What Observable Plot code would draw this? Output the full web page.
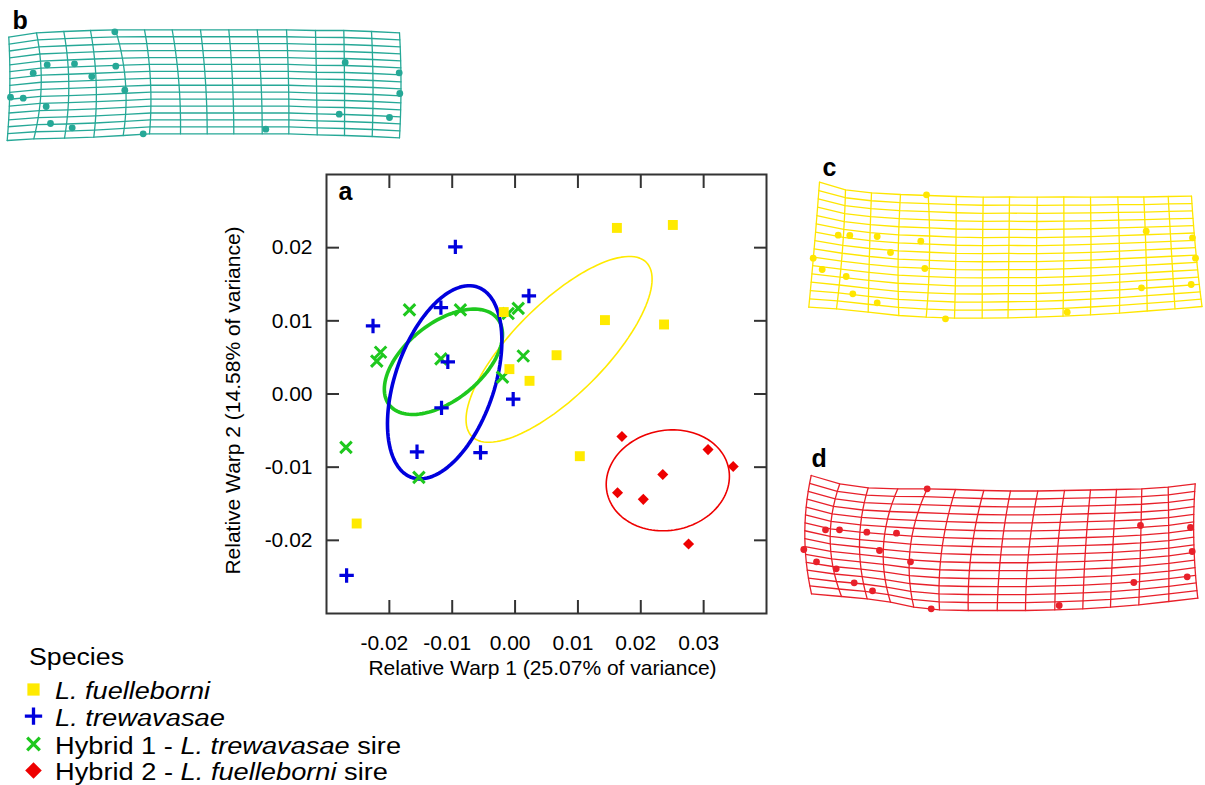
<!DOCTYPE html>
<html><head><meta charset="utf-8">
<script src="https://cdn.jsdelivr.net/npm/d3@7"></script>
<script src="https://cdn.jsdelivr.net/npm/@observablehq/plot@0.6"></script>
<style>
html,body{margin:0;padding:0;background:#fff;}
#page{position:relative;width:1205px;height:785px;overflow:hidden;font-family:"Liberation Sans",Arial,sans-serif;}
#page > svg{position:absolute;}
</style></head>
<body><div id="page"></div>
<script>
// ---------- Panel a: relative warp scores ----------
const xTicks = [-0.02, -0.01, 0.00, 0.01, 0.02, 0.03];
const yTicks = [-0.02, -0.01, 0.00, 0.01, 0.02];
const xLabel = "Relative Warp 1 (25.07% of variance)";
const yLabel = "Relative Warp 2 (14.58% of variance)";

const groups = ["fuelleborni", "trewavasae", "hybrid1", "hybrid2"];
const groupColors = ["#ffea00", "#0000dd", "#1ec81e", "#ee0000"];

const fuelleborniX = [0.0162, 0.0251, -0.0018, 0.0143, 0.0237, 0.0066, -0.0009, 0.0023, 0.0103, -0.0252];
const fuelleborniY = [0.0227, 0.0231, 0.0112, 0.0101, 0.0095, 0.0053, 0.0034, 0.0018, -0.0085, -0.0177];
const trewavasaeX = [-0.0095, 0.0022, -0.0118, -0.0226, -0.0107, -0.0003, -0.0117, -0.0156, -0.0055, -0.0268];
const trewavasaeY = [0.0201, 0.0134, 0.0118, 0.0093, 0.0044, -0.0007, -0.0019, -0.0079, -0.0080, -0.0248];
const hybrid1X = [-0.0168, -0.0087, 0.0005, -0.0011, -0.0214, -0.0220, -0.0118, 0.0013, -0.0020, -0.0269, -0.0153];
const hybrid1Y = [0.0115, 0.0115, 0.0117, 0.0110, 0.0057, 0.0045, 0.0048, 0.0052, 0.0023, -0.0073, -0.0114];
const hybrid2X = [0.0170, 0.0307, 0.0347, 0.0235, 0.0163, 0.0204, 0.0276];
const hybrid2Y = [-0.0058, -0.0076, -0.0099, -0.0110, -0.0135, -0.0144, -0.0205];

// ellipse parameters: centre, spread in x and y, correlation
const ellCx = [0.0070, -0.0112, -0.0114, 0.0243];
const ellCy = [0.0061, 0.0016, 0.0044, -0.0118];
const ellSx = [0.0148, 0.0091, 0.0094, 0.0098];
const ellSy = [0.0127, 0.0132, 0.0072, 0.0069];
const ellR  = [0.756, 0.43, 0.52, 0.08];

// legend
const legendTitle = "Species";
const legendItems = [
  [["L. fuelleborni", true]],
  [["L. trewavasae", true]],
  [["Hybrid 1 - ", false], ["L. trewavasae", true], [" sire", false]],
  [["Hybrid 2 - ", false], ["L. fuelleborni", true], [" sire", false]]
];

// ---------- Deformation grids (panel-local coordinates) ----------
const gridB_topX = [8.3, 36, 63.3, 90, 115, 144, 171.7, 200, 228.3, 256.7, 286, 315, 343.3, 371, 399];
const gridB_topY = [36.7, 32.3, 31, 30, 29.3, 29.3, 29.3, 29.3, 29.3, 29.3, 29.3, 30, 30, 31, 32.3];
const gridB_midX = [9.3, 40.7, 68.3, 95.7, 125, 150, 178.3, 205, 232, 260.5, 288, 316, 344, 372.5, 400.5];
const gridB_midY = [88.4, 85.3, 84.4, 83.4, 82.2, 81.3, 81.3, 81.3, 81.3, 81.3, 81.3, 82.2, 82.5, 83.5, 84.8];
const gridB_botX = [6.7, 33.3, 64, 93.3, 122.7, 149, 180, 206.7, 233.3, 261.7, 288.3, 316.7, 344, 371.7, 399];
const gridB_botY = [140, 138.3, 137.7, 136.7, 135, 133.3, 133.3, 133.3, 133.3, 133.3, 133.3, 134.3, 135, 136, 137.3];
const gridB_dotX = [114.3, 46.7, 74, 32.7, 115.3, 91.3, 124.3, 10, 22.7, 45.7, 50, 71.7, 142.7, 265.3, 344.7, 398.7, 399.3, 338.7, 389];
const gridB_dotY = [31.3, 64.3, 63.3, 72.7, 65.7, 76, 89.7, 96.7, 97.7, 106, 123, 127.3, 133.3, 128.7, 62, 72.3, 93, 113.7, 117];

const gridC_topX = [19, 45, 71, 100, 127.7, 155.7, 182.7, 209, 236.7, 263.3, 290, 317.3, 343.3, 367.7, 391];
const gridC_topY = [31.7, 39.3, 42.3, 44, 45, 46, 46.7, 46.5, 46.7, 46.5, 46.7, 46.5, 46.5, 46, 45.7];
const gridC_midX = [14, 42, 69, 97.7, 129, 155.3, 182, 208.3, 236, 263.3, 290.5, 319, 345.5, 371, 395.3];
const gridC_midY = [94.2, 98.8, 102, 104.5, 105.8, 106.9, 107.2, 107, 107.2, 106.5, 105.7, 104.4, 103.2, 102, 100.9];
const gridC_botX = [8.3, 36, 67.7, 98.3, 125.7, 154, 181.7, 207.5, 235.8, 262.5, 290, 319, 346.7, 374.5, 401.5];
const gridC_botY = [156.7, 158.3, 161.7, 165, 166.7, 167.7, 167.7, 167.3, 166.7, 165.7, 164.3, 162.7, 160.5, 158.3, 156];
const gridC_dotX = [126, 37.7, 49.3, 76.7, 120.3, 90, 12.7, 21.7, 124.3, 45.7, 52.3, 76.7, 145, 266.7, 345.7, 392, 395, 341, 390.7];
const gridC_dotY = [44.3, 84.7, 85, 86, 90.7, 102, 107.7, 119, 118, 126, 143.3, 152.3, 168.3, 161.7, 80.7, 87.3, 107.7, 137.3, 134];

const gridD_topX = [20.7, 49.3, 77.7, 107.3, 136.7, 165, 193.3, 220, 247.3, 274, 300, 326, 351.3, 377.7, 404.7];
const gridD_topY = [35, 43.3, 47.3, 48.3, 48.3, 49, 50, 50.5, 50.5, 50, 49.5, 49, 48.3, 46.7, 43.3];
const gridD_midX = [14.3, 39.7, 69, 93, 119.7, 151.3, 181, 210.7, 238.3, 267, 295, 322.3, 350, 378.3, 403.3];
const gridD_midY = [94.2, 99.7, 102.8, 105, 107.5, 109.2, 110, 110.3, 110.3, 109.7, 108.9, 107.9, 106.3, 103.9, 100.5];
const gridD_botX = [21, 51, 76.7, 100, 123.3, 149, 177.7, 206.7, 235, 264.3, 292.3, 320, 348.3, 378.3, 407.3];
const gridD_botY = [153.3, 156, 158.3, 161.7, 166.7, 169.3, 170, 170, 170, 169.3, 168.3, 166.7, 164.3, 161, 157.7];
const gridD_dotX = [136.7, 35, 49, 76.3, 106, 89, 13.3, 26, 120, 45.7, 63.7, 82, 140.7, 268.7, 350, 400, 401.7, 343.3, 396.7];
const gridD_dotY = [48.3, 89.3, 89.3, 91.7, 92.7, 110, 109, 121.3, 121.3, 128.3, 142.3, 150.3, 168.3, 165, 85, 87, 111, 142, 136.3];

const gridRows = 16;

// ---------- build ----------
const FONT = '"Liberation Sans", Arial, Helvetica, sans-serif';
const page = document.getElementById("page");
const fmt = d => d.toFixed(2);

const pointSets = [
  {g: "hybrid1", X: hybrid1X, Y: hybrid1Y, symbol: "times", r: 5.3, fill: "none", stroke: groupColors[2], sw: 3},
  {g: "trewavasae", X: trewavasaeX, Y: trewavasaeY, symbol: "plus", r: 4.7, fill: "none", stroke: groupColors[1], sw: 3.2},
  {g: "fuelleborni", X: fuelleborniX, Y: fuelleborniY, symbol: "square", r: 5.6, fill: groupColors[0], stroke: "none", sw: 0},
  {g: "hybrid2", X: hybrid2X, Y: hybrid2Y, symbol: "diamond2", r: 5.0, fill: groupColors[3], stroke: "none", sw: 0}
];

const ellipseWidths = [1.6, 3.6, 3.6, 1.6];
const ellipseOrder = [0, 3, 2, 1];
const ellipseMarks = ellipseOrder.map(k => {
  const pts = d3.range(0, 121).map(i => {
    const t = (i / 120) * 2 * Math.PI;
    return {
      x: ellCx[k] + ellSx[k] * Math.cos(t),
      y: ellCy[k] + ellR[k] * ellSy[k] * Math.cos(t) + ellSy[k] * Math.sqrt(1 - ellR[k] ** 2) * Math.sin(t)
    };
  });
  return Plot.line(pts, {x: "x", y: "y", stroke: groupColors[k], strokeWidth: ellipseWidths[k], curve: "linear"});
});

const pointMarks = pointSets.map(s => Plot.dot(s.X.map((x, i) => ({x, y: s.Y[i]})), {
  x: "x", y: "y", symbol: () => s.symbol, r: s.r, fill: s.fill, stroke: s.stroke, strokeWidth: s.sw
}));

const tickStyle = {tickSize: -13, fill: "none", stroke: "#333", strokeWidth: 2, label: null};

const main = Plot.plot({
  width: 560, height: 540,
  marginLeft: 106, marginRight: 14, marginTop: 14, marginBottom: 87,
  style: {background: "transparent", fontFamily: FONT, fontSize: "21px", color: "#000", overflow: "visible"},
  x: {domain: [-0.03, 0.04], label: null},
  y: {domain: [-0.03, 0.03], label: null},
  symbol: {type: "identity"},
  marks: [
    ...ellipseMarks,
    ...pointMarks,
    Plot.frame({stroke: "#333", strokeWidth: 2}),
    Plot.axisX(xTicks, {anchor: "bottom", ...tickStyle}),
    Plot.axisX(xTicks, {anchor: "top", ...tickStyle}),
    Plot.axisY(yTicks, {anchor: "left", ...tickStyle}),
    Plot.axisY(yTicks, {anchor: "right", ...tickStyle}),
    Plot.axisX(xTicks, {anchor: "bottom", tickSize: 0, tickPadding: 22, dx: -5, tickFormat: fmt, label: null, fill: "#000"}),
    Plot.axisY(yTicks, {anchor: "left", tickSize: 0, tickPadding: 14, tickFormat: fmt, label: null, fill: "#000"}),
    Plot.text([xLabel], {text: d => d, frameAnchor: "bottom", textAnchor: "middle", dy: 61, dx: -4, fontSize: 21, fill: "#000"}),
    Plot.text([yLabel], {text: d => d, frameAnchor: "left", textAnchor: "middle", rotate: -90, dx: -93, dy: 6.5, fontSize: 21, fill: "#000"}),
    Plot.text(["a"], {text: d => d, frameAnchor: "top-left", textAnchor: "start", lineAnchor: "bottom", dx: 12, dy: 25, fontSize: 25, fontWeight: "bold", fill: "#000"})
  ]
});
main.style.left = "220px";
main.style.top = "160px";
page.appendChild(main);

function gridNodes(g) {
  const nodes = [];
  for (let i = 0; i < gridRows; i++) {
    const t = i / (gridRows - 1);
    const a = (1 - t) * (1 - 2 * t), b = 4 * t * (1 - t), c = t * (2 * t - 1);
    g.topX.forEach((_, j) => nodes.push({
      row: i, col: j,
      x: a * g.topX[j] + b * g.midX[j] + c * g.botX[j],
      y: a * g.topY[j] + b * g.midY[j] + c * g.botY[j]
    }));
  }
  return nodes;
}

function gridPlot(g) {
  const nodes = gridNodes(g);
  const dots = g.dotX.map((x, i) => ({x, y: g.dotY[i]}));
  const svg = Plot.plot({
    width: g.w, height: g.h, margin: 0,
    x: {domain: [0, g.w], range: [0, g.w], axis: null},
    y: {domain: [0, g.h], range: [0, g.h], axis: null},
    style: {background: "transparent", overflow: "visible", fontFamily: FONT},
    marks: [
      Plot.line(nodes, {x: "x", y: "y", z: "row", stroke: g.color, strokeWidth: 1.3}),
      Plot.line(nodes, {x: "x", y: "y", z: "col", stroke: g.color, strokeWidth: 1.3}),
      Plot.dot(dots, {x: "x", y: "y", r: 3.4, fill: g.color}),
      Plot.text([g.label], {text: d => d, frameAnchor: "top-left", textAnchor: "start", lineAnchor: "bottom",
        dx: g.lx, dy: g.ly, fontSize: 25, fontWeight: "bold", fill: "#000"})
    ]
  });
  svg.style.left = g.left + "px";
  svg.style.top = g.top + "px";
  return svg;
}

page.appendChild(gridPlot({label: "b", color: "#26a897", left: 0, top: 0, w: 410, h: 150, lx: 12, ly: 28.3,
  topX: gridB_topX, topY: gridB_topY, midX: gridB_midX, midY: gridB_midY, botX: gridB_botX, botY: gridB_botY, dotX: gridB_dotX, dotY: gridB_dotY}));
page.appendChild(gridPlot({label: "c", color: "#ffe600", left: 800, top: 150, w: 410, h: 180, lx: 22, ly: 25,
  topX: gridC_topX, topY: gridC_topY, midX: gridC_midX, midY: gridC_midY, botX: gridC_botX, botY: gridC_botY, dotX: gridC_dotX, dotY: gridC_dotY}));
page.appendChild(gridPlot({label: "d", color: "#e8202a", left: 790, top: 440, w: 415, h: 185, lx: 21, ly: 26,
  topX: gridD_topX, topY: gridD_topY, midX: gridD_midX, midY: gridD_midY, botX: gridD_botX, botY: gridD_botY, dotX: gridD_dotX, dotY: gridD_dotY}));

// ---------- legend ----------
const leg = d3.create("svg").attr("width", 430).attr("height", 155)
  .style("left", "0px").style("top", "630px")
  .style("font-family", FONT).style("font-size", "23px");
leg.append("text").attr("x", 29).attr("y", 35).attr("fill", "#000")
  .attr("textLength", 95).attr("lengthAdjust", "spacingAndGlyphs").text(legendTitle);
const legSym = [
  {t: d3.symbolSquare, size: 150, fill: groupColors[0], stroke: "none", sw: 0},
  {t: d3.symbolPlus, size: 100, fill: "none", stroke: groupColors[1], sw: 3.3},
  {t: d3.symbolTimes, size: 105, fill: "none", stroke: groupColors[2], sw: 3.2},
  {t: d3.symbolDiamond2, size: 175, fill: groupColors[3], stroke: "none", sw: 0}
];
const baselines = [69, 95.7, 123.5, 150];
const legWidths = [155, 170, 346, 333];
legendItems.forEach((parts, i) => {
  const s = legSym[i];
  leg.append("path").attr("d", d3.symbol(s.t, s.size)())
    .attr("transform", `translate(33.5,${baselines[i] - 9.5})`)
    .attr("fill", s.fill).attr("stroke", s.stroke).attr("stroke-width", s.sw);
  const tx = leg.append("text").attr("x", 55).attr("y", baselines[i]).attr("fill", "#000")
    .attr("textLength", legWidths[i]).attr("lengthAdjust", "spacingAndGlyphs");
  parts.forEach(([str, it]) => tx.append("tspan").attr("font-style", it ? "italic" : "normal").text(str));
});
page.appendChild(leg.node());
</script></body></html>
